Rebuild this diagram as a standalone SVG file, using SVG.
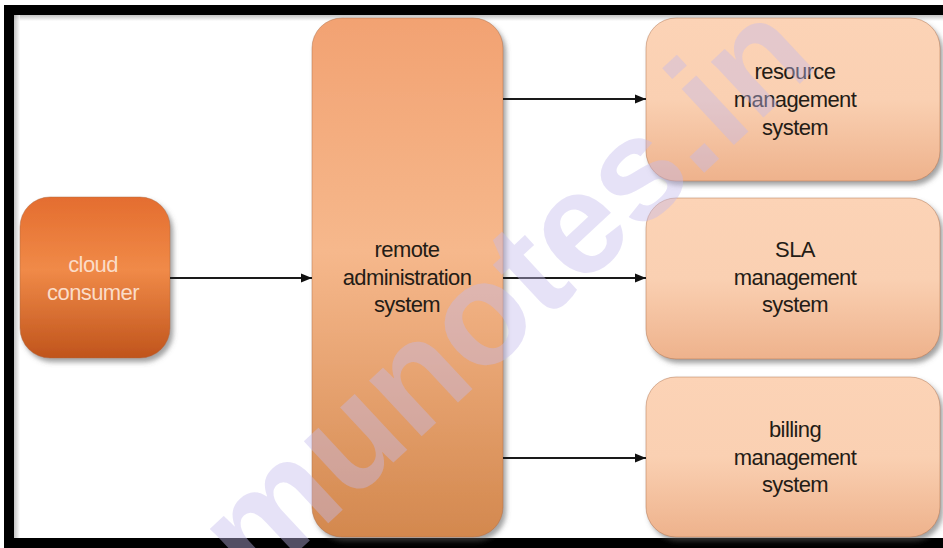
<svg xmlns="http://www.w3.org/2000/svg" width="943" height="548" viewBox="0 0 943 548">
  <defs>
    <linearGradient id="gCloud" x1="0" y1="0" x2="0" y2="1">
      <stop offset="0" stop-color="#e46d2f"/>
      <stop offset="0.45" stop-color="#f08a48"/>
      <stop offset="1" stop-color="#c0541c"/>
    </linearGradient>
    <linearGradient id="gRemote" x1="0" y1="0" x2="0" y2="1">
      <stop offset="0" stop-color="#f2a272"/>
      <stop offset="0.45" stop-color="#f6b88c"/>
      <stop offset="1" stop-color="#d3884e"/>
    </linearGradient>
    <linearGradient id="gRight" x1="0" y1="0" x2="0" y2="1">
      <stop offset="0" stop-color="#fcd3b6"/>
      <stop offset="0.5" stop-color="#fad0b2"/>
      <stop offset="1" stop-color="#eeb28c"/>
    </linearGradient>
    <linearGradient id="gTopShade" x1="0" y1="0" x2="0" y2="1">
      <stop offset="0" stop-color="#9a9a9a"/>
      <stop offset="1" stop-color="#ffffff"/>
    </linearGradient>
    <linearGradient id="gLeftShade" x1="0" y1="0" x2="1" y2="0">
      <stop offset="0" stop-color="#9a9a9a"/>
      <stop offset="1" stop-color="#ffffff"/>
    </linearGradient>
    <filter id="shadow" x="-10%" y="-10%" width="125%" height="125%">
      <feDropShadow dx="3" dy="4" stdDeviation="2.5" flood-color="#555" flood-opacity="0.55"/>
    </filter>
    <marker id="arrow" viewBox="0 0 10 10" refX="10" refY="5" markerWidth="11" markerHeight="11" markerUnits="userSpaceOnUse" orient="auto">
      <path d="M0,1 L10,5 L0,9 Z" fill="#111"/>
    </marker>
    <style>
      .lbl { font-family: "Liberation Sans", Arial, Helvetica, sans-serif; font-size: 22px; text-anchor: middle; fill: #241c16; letter-spacing: -0.6px; }
      .lblw { font-family: "Liberation Sans", Arial, Helvetica, sans-serif; font-size: 22px; text-anchor: middle; fill: #fbdcc8; letter-spacing: -0.6px; }
      .box { stroke: #a86a45; stroke-opacity: 0.45; stroke-width: 1; filter: url(#shadow); }
      .conn { stroke: #1a1a1a; stroke-width: 2.2; fill: none; marker-end: url(#arrow); }
      .wm { font-family: "Liberation Sans", Arial, sans-serif; font-weight: bold; font-size: 145px; fill: #c3baeb; fill-opacity: 0.42; text-anchor: middle; }
    </style>
  </defs>

  <!-- background and frame -->
  <rect x="0" y="0" width="943" height="548" fill="#ffffff"/>
  <rect x="14" y="15" width="929" height="6" fill="url(#gTopShade)" opacity="0.6"/>
  <rect x="14" y="15" width="6" height="523" fill="url(#gLeftShade)" opacity="0.6"/>
  <rect x="4" y="5" width="939" height="10" fill="#000000"/>
  <rect x="4" y="5" width="10" height="543" fill="#000000"/>
  <rect x="4" y="538" width="939" height="10" fill="#000000"/>

  <!-- nodes -->
  <g id="cloud-consumer">
    <rect class="box" x="20" y="197" width="150" height="161" rx="30" fill="url(#gCloud)"/>
    <text class="lblw" x="93" y="272">cloud</text>
    <text class="lblw" x="93" y="300">consumer</text>
  </g>

  <g id="remote-administration-system">
    <rect class="box" x="312" y="18" width="191" height="519" rx="30" fill="url(#gRemote)"/>
    <text class="lbl" x="407" y="257">remote</text>
    <text class="lbl" x="407" y="285">administration</text>
    <text class="lbl" x="407" y="312">system</text>
  </g>

  <g id="resource-management-system">
    <rect class="box" x="646" y="18" width="294" height="163" rx="30" fill="url(#gRight)"/>
    <text class="lbl" x="795" y="79">resource</text>
    <text class="lbl" x="795" y="107">management</text>
    <text class="lbl" x="795" y="135">system</text>
  </g>

  <g id="sla-management-system">
    <rect class="box" x="646" y="198" width="294" height="161" rx="30" fill="url(#gRight)"/>
    <text class="lbl" x="795" y="257">SLA</text>
    <text class="lbl" x="795" y="285">management</text>
    <text class="lbl" x="795" y="312">system</text>
  </g>

  <g id="billing-management-system">
    <rect class="box" x="646" y="377" width="294" height="160" rx="30" fill="url(#gRight)"/>
    <text class="lbl" x="795" y="437">billing</text>
    <text class="lbl" x="795" y="465">management</text>
    <text class="lbl" x="795" y="492">system</text>
  </g>

  <!-- connectors -->
  <g id="connectors">
    <line class="conn" x1="170" y1="278" x2="312" y2="278"/>
    <line class="conn" x1="503" y1="99" x2="646" y2="99"/>
    <line class="conn" x1="503" y1="278" x2="646" y2="278"/>
    <line class="conn" x1="503" y1="458" x2="646" y2="458"/>
  </g>

  <!-- watermark -->
  <text class="wm" transform="translate(512,300) rotate(-43)" x="0" y="38">munotes.in</text>
</svg>
